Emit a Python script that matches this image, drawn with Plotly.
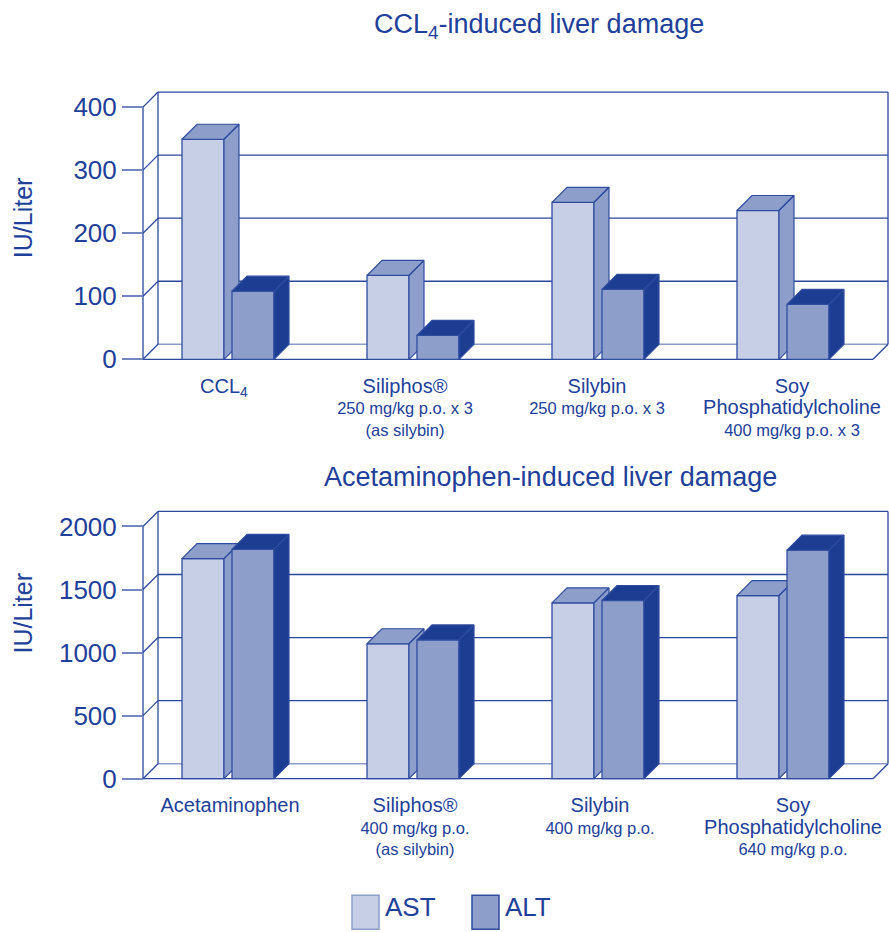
import plotly.graph_objects as go

# ---------------- data ----------------
top_names = ["CCL<sub>4</sub>", "Siliphos®", "Silybin", "Soy<br>Phosphatidylcholine"]
top_doses = ["", "250 mg/kg p.o. x 3<br>(as silybin)", "250 mg/kg p.o. x 3", "400 mg/kg p.o. x 3"]
top_ast = [349, 133, 249, 236]
top_alt = [108, 38, 111, 87]
top_ticks = [0, 100, 200, 300, 400]

bot_names = ["Acetaminophen", "Siliphos®", "Silybin", "Soy<br>Phosphatidylcholine"]
bot_doses = ["", "400 mg/kg p.o.<br>(as silybin)", "400 mg/kg p.o.", "640 mg/kg p.o."]
bot_ast = [1745, 1070, 1394, 1452]
bot_alt = [1818, 1100, 1413, 1812]
bot_ticks = [0, 500, 1000, 1500, 2000]

series_names = ["AST", "ALT"]

# ---------------- style / layout constants ----------------
W, H = 889, 932
SY = 945.0 / 932.0      # vertical layout factor (compensates capture squeeze)
LIGHT = "#c6cfe5"
MED = "#8d9ecb"
DARK = "#1c3d91"
EDGE = "#2f4c9f"
GRID = "#2a479c"
TEXT = "#21409a"
FONT = "Liberation Sans, Arial, Helvetica, sans-serif"

CAT_PX = 185.0          # pixels per category
X0_PX = 235.5           # pixel of category 0 centre
DEPTH_PX = 15.0
FRONT_LEFT = -0.5
FRONT_RIGHT = 3.446
dX = DEPTH_PX / CAT_PX
BAR_W = 42.0 / CAT_PX
AST_OFF = -53.5 / CAT_PX
ALT_OFF = -3.5 / CAT_PX
X_RANGE_PX = (137.0, 889.0)
x_range = [(p - X0_PX) / CAT_PX for p in X_RANGE_PX]
x_domain = [X_RANGE_PX[0] / W, X_RANGE_PX[1] / W]
label_pos = [i + AST_OFF + (2 * BAR_W + (ALT_OFF - AST_OFF - BAR_W)) / 2 for i in range(4)]

panels = [
    dict(names=top_names, doses=top_doses, ast=top_ast, alt=top_alt, ticks=top_ticks,
         y0=359.0, ppu=0.63, vmin=-5, vmax_r=432, lshift=[-4, -8, -1, 9],
         title="CCL<sub>4</sub>-induced liver damage", tx=539, ty=26, ylab_y=218,
         ax=("x", "y", "x3", "y3")),
    dict(names=bot_names, doses=bot_doses, ast=bot_ast, alt=bot_alt, ticks=bot_ticks,
         y0=778.0, ppu=0.126, vmin=-25, vmax_r=2160, lshift=[2, 2, 2, 10],
         title="Acetaminophen-induced liver damage", tx=550, ty=477, ylab_y=613,
         ax=("x2", "y2", "x4", "y4")),
]

fig = go.Figure()
shapes = []
annotations = []
layout_axes = {}


def faces(vals, off, dy):
    xs, ys = [], []
    for i, v in enumerate(vals):
        l = i + off
        r = l + BAR_W
        # side face
        xs += [r, r + dX, r + dX, r, r, None]
        ys += [0, dy, v + dy, v, 0, None]
        # top face
        xs += [l, l + dX, r + dX, r, l, None]
        ys += [v, v + dy, v + dy, v, v, None]
    return xs, ys


def axname(a, letter):
    return letter + "axis" + a[1:]


for p in panels:
    xa, ya, xo, yo = p["ax"]
    y0 = p["y0"] * SY
    ppu = p["ppu"] * SY
    dY = (DEPTH_PX * SY) / ppu
    bottom_px = y0 - p["vmin"] * ppu
    top_px = y0 - p["vmax_r"] * ppu
    y_domain = [1 - bottom_px / H, 1 - top_px / H]
    y_range = [p["vmin"], p["vmax_r"]]
    vmax = p["ticks"][-1]

    labels = []
    for n, d in zip(p["names"], p["doses"]):
        main = "<br>".join("<span style='font-size:20px'>%s</span>" % part for part in n.split("<br>"))
        labels.append(main + ("<br>" + d if d else ""))
    tickpos = [lp + s / CAT_PX for lp, s in zip(label_pos, p["lshift"])]

    layout_axes[axname(xa, "x")] = dict(domain=x_domain, range=x_range, anchor=ya,
                                        tickvals=tickpos, ticktext=labels, ticks="",
                                        showgrid=False, zeroline=False, showline=False,
                                        tickfont=dict(size=16.5, color=TEXT, family=FONT),
                                        ticklabelstandoff=13, fixedrange=True)
    layout_axes[axname(ya, "y")] = dict(domain=y_domain, range=y_range, anchor="free",
                                        position=143.0 / W, tickvals=p["ticks"],
                                        ticks="outside", ticklen=21, tickwidth=1.5, tickcolor="#7487c0",
                                        showgrid=False, zeroline=False, showline=False,
                                        tickfont=dict(size=26, color=TEXT, family=FONT),
                                        fixedrange=True)
    layout_axes[axname(xo, "x")] = dict(domain=x_domain, range=x_range, overlaying=xa,
                                        anchor=yo, visible=False, fixedrange=True)
    layout_axes[axname(yo, "y")] = dict(domain=y_domain, range=y_range, overlaying=ya,
                                        anchor=xo, visible=False, fixedrange=True)

    def line(x0, y0_, x1, y1, color=GRID, width=1.3):
        shapes.append(dict(type="line", xref=xa, yref=ya, x0=x0, y0=y0_, x1=x1, y1=y1,
                           line=dict(color=color, width=width), layer="below"))

    for t in p["ticks"]:
        c = MED if t == 0 else GRID
        line(FRONT_LEFT + dX, t + dY, FRONT_RIGHT + dX, t + dY, color=c, width=1.6 if t == 0 else 1.3)
        line(FRONT_LEFT, t, FRONT_LEFT + dX, t + dY)
    line(FRONT_LEFT, 0, FRONT_LEFT, vmax)
    line(FRONT_LEFT + dX, dY, FRONT_LEFT + dX, vmax + dY)
    line(FRONT_RIGHT + dX, dY, FRONT_RIGHT + dX, vmax + dY)
    line(FRONT_LEFT, 0, FRONT_RIGHT, 0)
    line(FRONT_RIGHT, 0, FRONT_RIGHT + dX, dY)

    xs_idx = list(range(len(p["ast"])))
    # AST on base subplot
    fig.add_trace(go.Bar(x=xs_idx, y=p["ast"], name="AST", offset=AST_OFF, width=BAR_W,
                         marker=dict(color=LIGHT, line=dict(color=EDGE, width=1.3)),
                         xaxis=xa, yaxis=ya, showlegend=False, hoverinfo="skip"))
    sx, sy = faces(p["ast"], AST_OFF, dY)
    fig.add_trace(go.Scatter(x=sx, y=sy, mode="lines", fill="toself", fillcolor=MED,
                             line=dict(color=EDGE, width=1.2), xaxis=xa, yaxis=ya,
                             showlegend=False, hoverinfo="skip"))
    # ALT on overlay subplot (drawn in front of AST)
    fig.add_trace(go.Bar(x=xs_idx, y=p["alt"], name="ALT", offset=ALT_OFF, width=BAR_W,
                         marker=dict(color=MED, line=dict(color=EDGE, width=1.3)),
                         xaxis=xo, yaxis=yo, showlegend=False, hoverinfo="skip"))
    sx, sy = faces(p["alt"], ALT_OFF, dY)
    fig.add_trace(go.Scatter(x=sx, y=sy, mode="lines", fill="toself", fillcolor=DARK,
                             line=dict(color=EDGE, width=1.2), xaxis=xo, yaxis=yo,
                             showlegend=False, hoverinfo="skip"))

    annotations.append(dict(text=p["title"], xref="paper", yref="paper", x=p["tx"] / W,
                            y=1 - p["ty"] * SY / H, xanchor="center", yanchor="middle", showarrow=False,
                            font=dict(size=27, color=TEXT, family=FONT)))
    annotations.append(dict(text="IU/Liter", xref="paper", yref="paper", x=23.0 / W,
                            y=1 - p["ylab_y"] * SY / H, xanchor="center", yanchor="middle", showarrow=False,
                            textangle=-90, font=dict(size=25, color=TEXT, family=FONT)))

# legend (manual, large swatches)
legend_items = [("AST", LIGHT, MED, 352, 383), ("ALT", MED, EDGE, 472, 503)]
for name, fill, edge, sx0, tx0 in legend_items:
    shapes.append(dict(type="rect", xref="paper", yref="paper", x0=sx0 / W, x1=(sx0 + 27) / W,
                       y0=-0.01, y1=1 - 907.0 / H, fillcolor=fill,
                       line=dict(color=edge, width=1.5)))
    annotations.append(dict(text=name, xref="paper", yref="paper", x=tx0 / W, y=0.0,
                            xanchor="left", yanchor="bottom", yshift=-4, showarrow=False,
                            font=dict(size=26, color=TEXT, family=FONT)))

fig.update_layout(width=W, height=H, margin=dict(l=0, r=0, t=0, b=0),
                  paper_bgcolor="white", plot_bgcolor="rgba(0,0,0,0)",
                  barmode="overlay", showlegend=False, shapes=shapes, annotations=annotations,
                  font=dict(family=FONT, color=TEXT), **layout_axes)

fig.write_html("out.html", config={"displayModeBar": False},
               post_script="document.body.style.margin='0';document.body.style.overflow='hidden';")
